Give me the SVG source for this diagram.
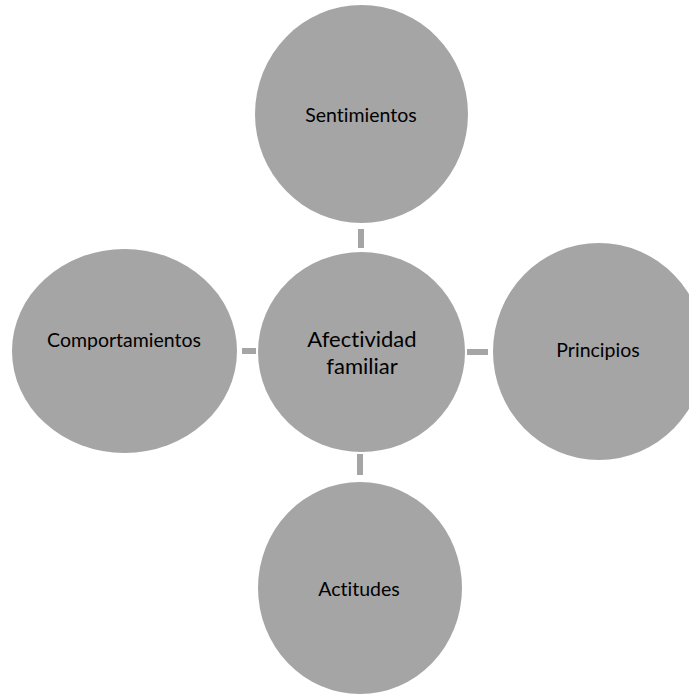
<svg xmlns="http://www.w3.org/2000/svg" width="689" height="694" viewBox="0 0 689 694">
  <style>
    .node { fill: #a5a5a5; }
    .link { fill: #a5a5a5; }
    .label { font-family: Lato, "Open Sans", "Liberation Sans", sans-serif; font-size: 19.5px; fill: #000; text-anchor: middle; font-variant-ligatures: none; font-feature-settings: "liga" 0, "clig" 0; }
    .hub { font-size: 22px; }
  </style>
  <rect width="689" height="694" fill="#ffffff"/>
  <g id="connectors">
    <rect class="link" x="358" y="229" width="6" height="19"/>
    <rect class="link" x="357" y="454" width="6" height="21"/>
    <rect class="link" x="242" y="348" width="14" height="6"/>
    <rect class="link" x="467" y="349" width="21" height="6"/>
  </g>
  <g id="sentimientos">
    <ellipse class="node" cx="361.5" cy="114" rx="106.5" ry="109"/>
    <text class="label" x="361" y="121.5">Sentimientos</text>
  </g>
  <g id="afectividad-familiar">
    <ellipse class="node" cx="361.5" cy="352" rx="103.5" ry="100"/>
    <text class="label hub" x="362" y="346.5">Afectividad</text>
    <text class="label hub" x="362" y="373.5">familiar</text>
  </g>
  <g id="comportamientos">
    <ellipse class="node" cx="124.5" cy="351" rx="112.5" ry="102"/>
    <text class="label" x="124" y="347">Comportamientos</text>
  </g>
  <g id="principios">
    <ellipse class="node" cx="599" cy="351.5" rx="106" ry="108.5"/>
    <text class="label" x="598" y="357">Principios</text>
  </g>
  <g id="actitudes">
    <ellipse class="node" cx="360" cy="588" rx="102" ry="106"/>
    <text class="label" x="359" y="595.5">Actitudes</text>
  </g>
</svg>
